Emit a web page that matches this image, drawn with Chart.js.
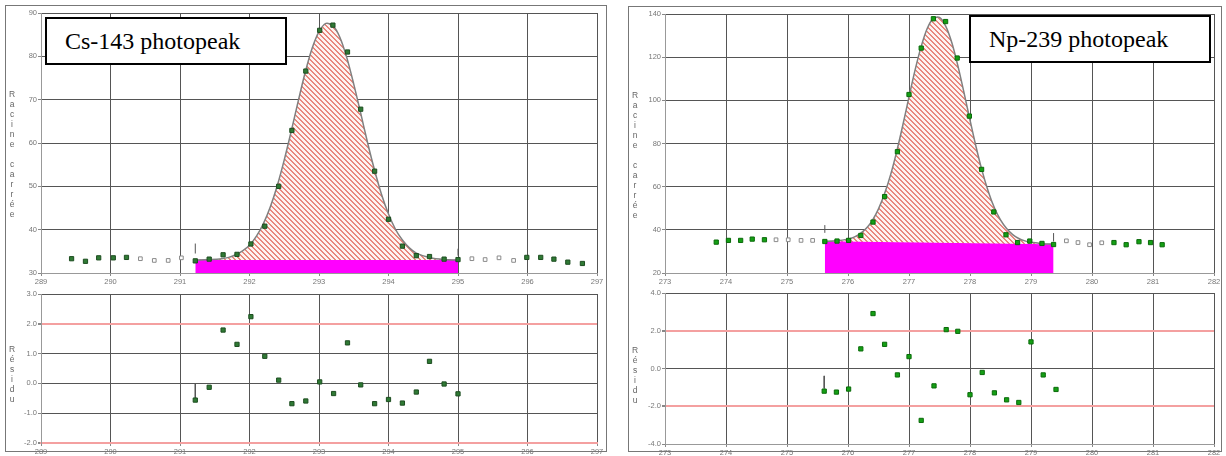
<!DOCTYPE html>
<html lang="fr">
<head>
<meta charset="UTF-8">
<title>Photopics Cs-143 / Np-239</title>
<script src="https://cdn.jsdelivr.net/npm/chart.js"></script>
<style>
    body {
        margin: 0;
        width: 1226px;
        height: 456px;
        position: relative;
        overflow: hidden;
        background: #fff;
        font-family: "Liberation Sans", Arial, sans-serif;
    }
    canvas { position: absolute; }
    .frame {
        position: absolute;
        border: 1px solid #777;
        box-sizing: border-box;
    }
    .tag {
        position: absolute;
        box-sizing: border-box;
        width: 242px;
        height: 48px;
        border: 2px solid #000;
        background: #fff;
        font-family: "Liberation Serif", "Times New Roman", serif;
        font-size: 24px;
        line-height: 44px;
        padding-left: 18px;
        color: #000;
        z-index: 5;
    }
    .vt {
        position: absolute;
        writing-mode: vertical-rl;
        text-orientation: upright;
        font-size: 8.5px;
        line-height: 8px;
        color: #666;
        z-index: 5;
    }
</style>
</head>
<body>
<div class="frame" style="left:5px; top:5px; width:602px; height:447px;"></div>
<div class="frame" style="left:628px; top:6px; width:594px; height:446px;"></div>

<canvas id="csTop" width="610" height="290" style="left:0; top:0;"></canvas>
<canvas id="csRes" width="610" height="171" style="left:0; top:285px;"></canvas>
<canvas id="npTop" width="611" height="290" style="left:615px; top:0;"></canvas>
<canvas id="npRes" width="611" height="171" style="left:615px; top:285px;"></canvas>

<div class="tag" style="left:45px; top:17px;">Cs-143 photopeak</div>
<div class="tag" style="left:969px; top:15px;">Np-239 photopeak</div>

<div class="vt" style="left:8px; top:89px;">Racine carrée</div>
<div class="vt" style="left:8px; top:344px;">Résidu</div>
<div class="vt" style="left:631px; top:90px;">Racine carrée</div>
<div class="vt" style="left:631px; top:345px;">Résidu</div>

<script>
    // ---- Cs-143 : spectre (racine carrée des coups) ----
    const csPtsX = [289.44, 289.64, 289.83, 290.04, 290.23, 291.22, 291.42, 291.62, 291.82, 292.02,
                    292.22, 292.42, 292.61, 292.81, 293.01, 293.2, 293.41, 293.6, 293.8, 294.0,
                    294.2, 294.4, 294.59, 294.8, 295.0, 295.99, 296.19, 296.38, 296.58, 296.79];
    const csPtsY = [33.3, 32.7, 33.5, 33.5, 33.6, 32.8, 33.2, 34.2, 34.3, 36.7,
                    40.8, 50.0, 62.9, 76.6, 86.0, 87.2, 81.0, 67.8, 53.5, 42.4,
                    36.2, 34.0, 33.8, 33.2, 33.1, 33.6, 33.6, 33.2, 32.5, 32.2];
    const csOffX = [290.43, 290.63, 290.83, 291.02, 295.2, 295.39, 295.59, 295.8];
    const csOffY = [33.3, 32.9, 32.9, 33.5, 33.3, 33.1, 33.5, 32.9];
    const csFitX = [291.22, 291.4, 291.6, 291.7, 291.8, 291.9, 292.0, 292.1, 292.2, 292.3,
                    292.4, 292.5, 292.6, 292.7, 292.8, 292.9, 293.0, 293.1, 293.2, 293.3,
                    293.4, 293.5, 293.6, 293.7, 293.8, 293.9, 294.0, 294.1, 294.2, 294.3,
                    294.4, 294.6, 294.8, 295.0];
    const csFitY = [33.0, 33.1, 33.3, 33.6, 34.2, 35.1, 36.4, 38.5, 41.4, 45.3,
                    50.2, 56.1, 62.7, 69.6, 76.2, 81.8, 85.7, 87.6, 87.1, 84.4,
                    79.7, 73.6, 66.9, 60.0, 53.7, 48.1, 43.6, 40.1, 37.6, 35.8,
                    34.6, 33.5, 33.1, 33.0];
    const csBaseX = [291.22, 295.0];
    const csBaseY = [33.0, 33.0];
    const csMarkX = [291.22, 295.0];
    const csMarkLo = [34.5, 34.0];
    const csMarkHi = [36.8, 35.6];

    // ---- Cs-143 : résidus ----
    const csResX = [291.22, 291.42, 291.62, 291.82, 292.02, 292.22, 292.42, 292.61, 292.81, 293.01,
                    293.21, 293.41, 293.6, 293.8, 294.0, 294.2, 294.4, 294.59, 294.8, 295.0];
    const csResY = [-0.56, -0.13, 1.79, 1.31, 2.24, 0.91, 0.11, -0.68, -0.59, 0.05,
                    -0.34, 1.36, -0.05, -0.68, -0.54, -0.66, -0.29, 0.74, -0.02, -0.35];
    const csResMark = [291.22, 0.0, -0.49];

    // ---- Np-239 : spectre ----
    const npPtsX = [273.84, 274.04, 274.24, 274.43, 274.63, 275.62, 275.82, 276.01, 276.21, 276.41,
                    276.6, 276.81, 277.0, 277.2, 277.4, 277.6, 277.79, 277.99, 278.19, 278.39,
                    278.59, 278.78, 278.98, 279.18, 279.37, 280.36, 280.56, 280.77, 280.96, 281.15];
    const npPtsY = [34.3, 35.1, 35.1, 35.7, 35.4, 34.6, 34.8, 35.1, 37.4, 43.6,
                    55.4, 76.2, 102.7, 124.2, 137.8, 136.5, 119.6, 92.7, 68.0, 48.3,
                    37.7, 34.1, 34.8, 33.7, 33.2, 34.1, 33.1, 34.5, 34.1, 33.1];
    const npOffX = [274.82, 275.02, 275.23, 275.42, 279.58, 279.77, 279.96, 280.16];
    const npOffY = [35.4, 35.4, 35.1, 35.1, 34.9, 34.1, 33.1, 34.0];
    const npFitX = [275.62, 275.8, 276.0, 276.1, 276.2, 276.3, 276.4, 276.5, 276.6, 276.7,
                    276.8, 276.9, 277.0, 277.1, 277.2, 277.3, 277.4, 277.5, 277.6, 277.7,
                    277.8, 277.9, 278.0, 278.1, 278.2, 278.3, 278.4, 278.5, 278.6, 278.7,
                    278.8, 278.9, 279.0, 279.2, 279.37];
    const npFitY = [34.7, 34.9, 35.7, 36.6, 38.2, 40.7, 44.4, 49.7, 56.8, 65.7,
                    76.5, 88.7, 101.6, 114.1, 125.0, 133.4, 138.0, 138.4, 134.5, 126.9,
                    116.2, 103.8, 90.9, 78.4, 67.2, 57.8, 50.2, 44.6, 40.6, 37.8,
                    36.0, 34.9, 34.2, 33.6, 33.3];
    const npBaseX = [275.62, 279.37];
    const npBaseY = [34.7, 33.3];
    const npMarkX = [275.62, 279.37];
    const npMarkLo = [38.6, 34.6];
    const npMarkHi = [42.2, 38.5];

    // ---- Np-239 : résidus ----
    const npResX = [275.61, 275.81, 276.01, 276.21, 276.41, 276.6, 276.81, 277.0, 277.2, 277.41,
                    277.61, 277.8, 278.0, 278.2, 278.4, 278.6, 278.8, 279.0, 279.2, 279.41];
    const npResY = [-1.20, -1.25, -1.09, 1.04, 2.91, 1.28, -0.34, 0.63, -2.75, -0.92,
                    2.06, 1.97, -1.39, -0.21, -1.29, -1.66, -1.80, 1.41, -0.34, -1.11];
    const npResMark = [275.61, -0.39, -1.06];

    const zip = (xs, ys) => xs.map((x, i) => ({ x: x, y: ys[i] }));

    function hatch() {
        const c = document.createElement("canvas");
        c.width = 5;
        c.height = 5;
        const g = c.getContext("2d");
        g.fillStyle = "#fdf3f1";
        g.fillRect(0, 0, 5, 5);
        g.fillStyle = "#e8877d";
        for (let i = 0; i < 5; i++) {
            g.fillRect(i, i, 1, 1);
            g.fillRect((i + 1) % 5, i, 1, 1);
        }
        return g.createPattern(c, "repeat");
    }

    const tickFont = { family: "'Liberation Sans', Arial, sans-serif", size: 7.5 };
    const GRID = "#555";
    const RED = "#f4a0a0";

    function axes(o) {
        return {
            x: {
                type: "linear", min: o.xmin, max: o.xmax,
                afterFit: s => { s.height = o.xh; },
                grid: { color: GRID, lineWidth: 1, tickLength: 3, tickColor: "#888" },
                border: { color: o.xborder || "#999", width: o.xborder ? 2 : 1 },
                ticks: { stepSize: 1, font: tickFont, color: "#777", padding: 1, maxRotation: 0,
                         callback: v => String(v) }
            },
            y: {
                type: "linear", min: o.ymin, max: o.ymax,
                afterFit: s => { s.width = o.yw; },
                grid: {
                    color: c => (o.res && Math.abs(c.tick.value) === 2) ? RED : GRID,
                    lineWidth: c => (o.res && Math.abs(c.tick.value) === 2) ? 2 : 1,
                    tickLength: 3, tickColor: "#888"
                },
                border: { color: "#999" },
                ticks: { stepSize: o.ystep, font: tickFont, color: "#777", padding: 1,
                         callback: v => o.res ? v.toFixed(1) : String(v) }
            }
        };
    }

    const baseOptions = (o) => ({
        responsive: false,
        animation: false,
        layout: { padding: { left: 0, top: o.pt, right: o.pr, bottom: 0 } },
        plugins: { legend: { display: false }, tooltip: { enabled: false } },
        scales: axes(o)
    });

    function markerSets(xs, lo, hi) {
        return xs.map((x, i) => ({
            data: [{ x: x, y: lo[i] }, { x: x, y: hi[i] }],
            showLine: true, borderColor: "#555", borderWidth: 1, pointRadius: 0, order: 2
        }));
    }

    function spectrum(id, d, o) {
        return new Chart(document.getElementById(id), {
            type: "scatter",
            data: {
                datasets: [
                    {   // aire sous la ligne de base (magenta)
                        data: zip(d.baseX, d.baseY), showLine: true, fill: "start",
                        backgroundColor: "#ff00ff", borderColor: "#ff00ff", borderWidth: 1,
                        pointRadius: 0, order: 5
                    },
                    {   // courbe ajustée, zone hachurée jusqu'à la ligne de base
                        data: zip(d.fitX, d.fitY), showLine: true, fill: 0,
                        backgroundColor: hatch(), borderColor: "#808080", borderWidth: 1.5,
                        pointRadius: 0, tension: 0.3, order: 4
                    },
                    {   // points hors ajustement
                        data: zip(d.offX, d.offY), pointStyle: "rect", pointRadius: 2.6,
                        backgroundColor: "#fff", borderColor: "#8a8a8a", borderWidth: 1, order: 1
                    },
                    {   // points mesurés
                        data: zip(d.ptsX, d.ptsY), pointStyle: "rect", pointRadius: 3,
                        backgroundColor: o.green, borderColor: o.greenEdge, borderWidth: 1, order: 0
                    },
                    ...markerSets(d.markX, d.markLo, d.markHi)
                ]
            },
            options: baseOptions(o)
        });
    }

    function residuals(id, xs, ys, mark, o) {
        return new Chart(document.getElementById(id), {
            type: "scatter",
            data: {
                datasets: [
                    {
                        data: zip(xs, ys), pointStyle: "rect", pointRadius: 3,
                        backgroundColor: o.green, borderColor: o.greenEdge, borderWidth: 1, order: 0
                    },
                    ...markerSets([mark[0]], [mark[1]], [mark[2]])
                ]
            },
            options: baseOptions(o)
        });
    }

    spectrum("csTop",
        { ptsX: csPtsX, ptsY: csPtsY, offX: csOffX, offY: csOffY, fitX: csFitX, fitY: csFitY,
          baseX: csBaseX, baseY: csBaseY, markX: csMarkX, markLo: csMarkLo, markHi: csMarkHi },
        { xmin: 289, xmax: 297, ymin: 30, ymax: 90, ystep: 10, yw: 41, xh: 17, pt: 13, pr: 13,
          green: "#2f7a34", greenEdge: "#1d4d20" });

    residuals("csRes", csResX, csResY, csResMark,
        { xmin: 289, xmax: 297, ymin: -2, ymax: 3, ystep: 1, yw: 41, xh: 13, pt: 9, pr: 13,
          res: true, xborder: RED, green: "#2f7a34", greenEdge: "#1d4d20" });

    spectrum("npTop",
        { ptsX: npPtsX, ptsY: npPtsY, offX: npOffX, offY: npOffY, fitX: npFitX, fitY: npFitY,
          baseX: npBaseX, baseY: npBaseY, markX: npMarkX, markLo: npMarkLo, markHi: npMarkHi },
        { xmin: 273, xmax: 282, ymin: 20, ymax: 140, ystep: 20, yw: 50, xh: 17, pt: 14, pr: 12,
          green: "#14a014", greenEdge: "#0b6a0b" });

    residuals("npRes", npResX, npResY, npResMark,
        { xmin: 273, xmax: 282, ymin: -4, ymax: 4, ystep: 2, yw: 50, xh: 12, pt: 8, pr: 12,
          res: true, green: "#14a014", greenEdge: "#0b6a0b" });
</script>
</body>
</html>
